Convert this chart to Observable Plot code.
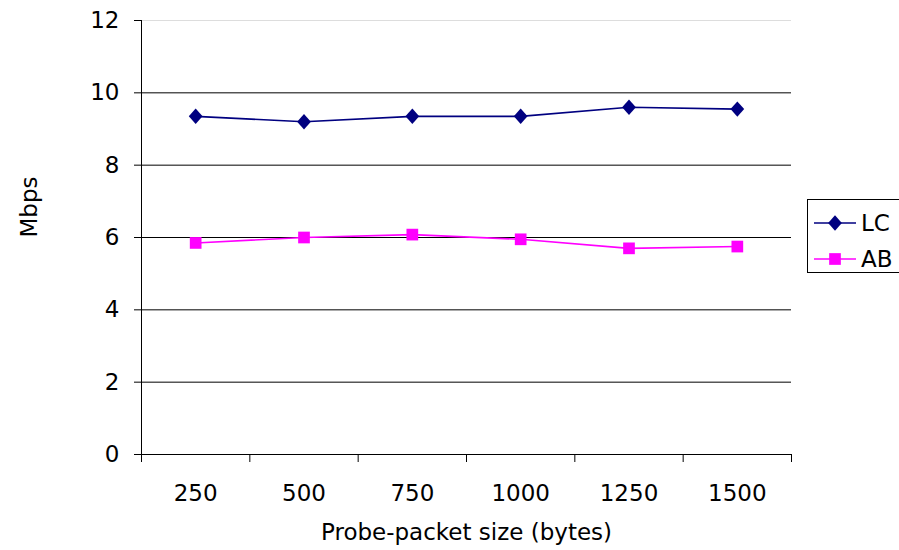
<!DOCTYPE html>
<html>
<head>
<meta charset="utf-8">
<script src="https://cdn.jsdelivr.net/npm/d3@7"></script>
<script src="https://cdn.jsdelivr.net/npm/@observablehq/plot@0.6"></script>
<style>
  body { margin: 0; background: #fff; font-family: "DejaVu Sans", sans-serif; }
  #wrap { position: relative; width: 899px; height: 550px; overflow: hidden; }
  #legend { position: absolute; left: 807px; top: 199px; width: 100px; height: 74px;
            border: 1px solid #000; box-sizing: border-box; background: #fff; }
  .row { position: absolute; left: 6px; height: 30px; display: flex; align-items: center; }
  .row span { font-size: 23px; margin-left: 5px; color: #000; }
</style>
</head>
<body>
<div id="wrap"><div id="legend"></div></div>
<script>
const sizes = ["250", "500", "750", "1000", "1250", "1500"];
const lcValues = [9.35, 9.2, 9.35, 9.35, 9.6, 9.55];
const abValues = [5.85, 6.0, 6.08, 5.95, 5.7, 5.75];
const yTicks = [0, 2, 4, 6, 8, 10, 12];
const seriesNames = ["LC", "AB"];
const seriesColors = ["#000080", "#ff00ff"];

// wide rhombus like the spreadsheet's diamond marker
const wideDiamond = {
  draw(context, size) {
    const s = Math.sqrt(size);
    const h = s * 0.99, w = s * 0.88;
    context.moveTo(0, -h);
    context.lineTo(w, 0);
    context.lineTo(0, h);
    context.lineTo(-w, 0);
    context.closePath();
  }
};

const rows = [];
sizes.forEach((s, i) => {
  rows.push({series: "LC", idx: i + 1, size: s, value: lcValues[i]});
  rows.push({series: "AB", idx: i + 1, size: s, value: abValues[i]});
});
const lc = rows.filter(d => d.series === "LC");
const ab = rows.filter(d => d.series === "AB");
const boundaries = d3.range(0, sizes.length + 1).map(i => i + 0.5);

const chart = Plot.plot({
  width: 899,
  height: 550,
  marginLeft: 141,
  marginRight: 108,
  marginTop: 20,
  marginBottom: 96,
  style: {fontFamily: "DejaVu Sans, sans-serif", fontSize: "23px", color: "#000", background: "#fff"},
  x: {domain: [0.5, sizes.length + 0.5], axis: null},
  y: {domain: [0, 12], axis: null},
  marks: [
    Plot.ruleY(yTicks.filter(t => t < 12), {stroke: "#000", strokeWidth: 1}),
    Plot.ruleY([12], {stroke: "#ddd", strokeWidth: 1}),
    Plot.ruleX([0.5], {stroke: "#000", strokeWidth: 1}),
    Plot.axisY({ticks: yTicks, tickSize: 7, tickPadding: 15, tickFormat: d => d, fontSize: 23,
      label: null}),
    Plot.axisX({ticks: boundaries, tickSize: 8, tickFormat: () => "", label: null}),
    Plot.axisX({ticks: d3.range(1, sizes.length + 1), tickSize: 0, tickPadding: 30,
      tickFormat: i => sizes[i - 1], fontSize: 23, label: null}),
    Plot.text(["Mbps"], {frameAnchor: "left", dx: -112, rotate: -90, fontSize: 23}),
    Plot.text(["Probe-packet size (bytes)"], {frameAnchor: "bottom", dy: 85, fontSize: 23}),
    Plot.line(lc, {x: "idx", y: "value", stroke: seriesColors[0], strokeWidth: 1.6}),
    Plot.line(ab, {x: "idx", y: "value", stroke: seriesColors[1], strokeWidth: 1.6}),
    Plot.dot(lc, {x: "idx", y: "value", symbol: wideDiamond, r: 4.4, fill: seriesColors[0], stroke: "none"}),
    Plot.dot(ab, {x: "idx", y: "value", symbol: "square", r: 6.6, fill: seriesColors[1], stroke: "none"})
  ]
});
document.getElementById("wrap").prepend(chart);

// legend
const legend = d3.select("#legend");
seriesNames.forEach((name, i) => {
  const row = legend.append("div").attr("class", "row").style("top", (8 + i * 36) + "px");
  const svg = row.append("svg").attr("width", 42).attr("height", 30);
  svg.append("line").attr("x1", 0).attr("x2", 42).attr("y1", 15).attr("y2", 15)
    .attr("stroke", seriesColors[i]).attr("stroke-width", 1.6);
  svg.append("path").attr("transform", "translate(21,15)")
    .attr("d", d3.symbol(i === 0 ? wideDiamond : d3.symbolSquare, i === 0 ? 61 : 137)())
    .attr("fill", seriesColors[i]);
  row.append("span").text(name);
});
</script>
</body>
</html>
